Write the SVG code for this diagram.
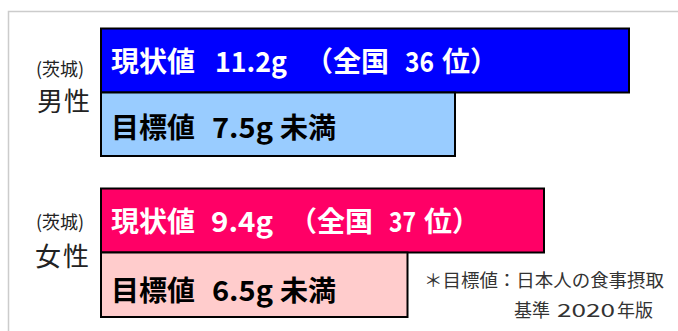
<svg xmlns="http://www.w3.org/2000/svg" width="678" height="331" viewBox="0 0 678 331">
<style>
.bar{stroke:#000;stroke-width:2}
.bt{font-family:"Noto Sans CJK JP","Noto Sans",sans-serif;font-weight:bold;font-size:28px}
.w{fill:#fff}
.k{fill:#000}
.lab{font-family:"Noto Sans CJK JP","Noto Sans",sans-serif;fill:#222}
.note{font-family:"Noto Sans CJK JP","Noto Sans",sans-serif;font-size:18px;fill:#333}
</style>
<rect width="678" height="331" fill="#fff"/>
<g id="frame">
<path d="M8.5 331 V11.5 H678" fill="none" stroke="#ccc" stroke-width="1.5"/>
</g>
<g id="male">
<text class="lab" x="36" y="76" font-size="18">(茨城)</text>
<text class="lab" x="37" y="111" font-size="26" letter-spacing="1">男性</text>
</g>
<g id="male-current">
<rect class="bar" x="101" y="28.5" width="528" height="64" fill="#0000FF"/>
<text class="bt w" x="111" y="72">現状値</text>
<text class="bt w" x="215" y="72" textLength="72" lengthAdjust="spacingAndGlyphs">11.2g</text>
<text class="bt w" x="305" y="72">（全国</text>
<text class="bt w" x="405" y="72" textLength="29" lengthAdjust="spacingAndGlyphs">36</text>
<text class="bt w" x="442" y="72">位）</text>
</g>
<g id="male-target">
<rect class="bar" x="101" y="92.5" width="354" height="63.5" fill="#99CCFF"/>
<text class="bt k" x="111" y="138">目標値</text>
<text class="bt k" x="212" y="138" textLength="61" lengthAdjust="spacingAndGlyphs">7.5g</text>
<text class="bt k" x="280" y="138">未満</text>
</g>
<g id="female">
<text class="lab" x="36" y="229" font-size="18">(茨城)</text>
<text class="lab" x="35" y="266" font-size="26" letter-spacing="2">女性</text>
</g>
<g id="female-current">
<rect class="bar" x="101" y="188.5" width="443" height="64" fill="#FF0066"/>
<text class="bt w" x="111" y="232">現状値</text>
<text class="bt w" x="211" y="232" textLength="62" lengthAdjust="spacingAndGlyphs">9.4g</text>
<text class="bt w" x="289" y="232">（全国</text>
<text class="bt w" x="389" y="232" textLength="27" lengthAdjust="spacingAndGlyphs">37</text>
<text class="bt w" x="424" y="232">位）</text>
</g>
<g id="female-target">
<rect class="bar" x="101" y="252.5" width="306.5" height="64.5" fill="#FFCCCC"/>
<text class="bt k" x="111" y="301">目標値</text>
<text class="bt k" x="212" y="301" textLength="61" lengthAdjust="spacingAndGlyphs">6.5g</text>
<text class="bt k" x="280" y="301">未満</text>
</g>
<g id="note">
<text class="note" x="424" y="287" textLength="240" lengthAdjust="spacingAndGlyphs">＊目標値：日本人の食事摂取</text>
<text class="note" x="514" y="317">基準</text>
<text class="note" x="557" y="317" textLength="58" lengthAdjust="spacingAndGlyphs">2020</text>
<text class="note" x="617" y="317">年版</text>
</g>
<g id="connectors"></g>
</svg>
